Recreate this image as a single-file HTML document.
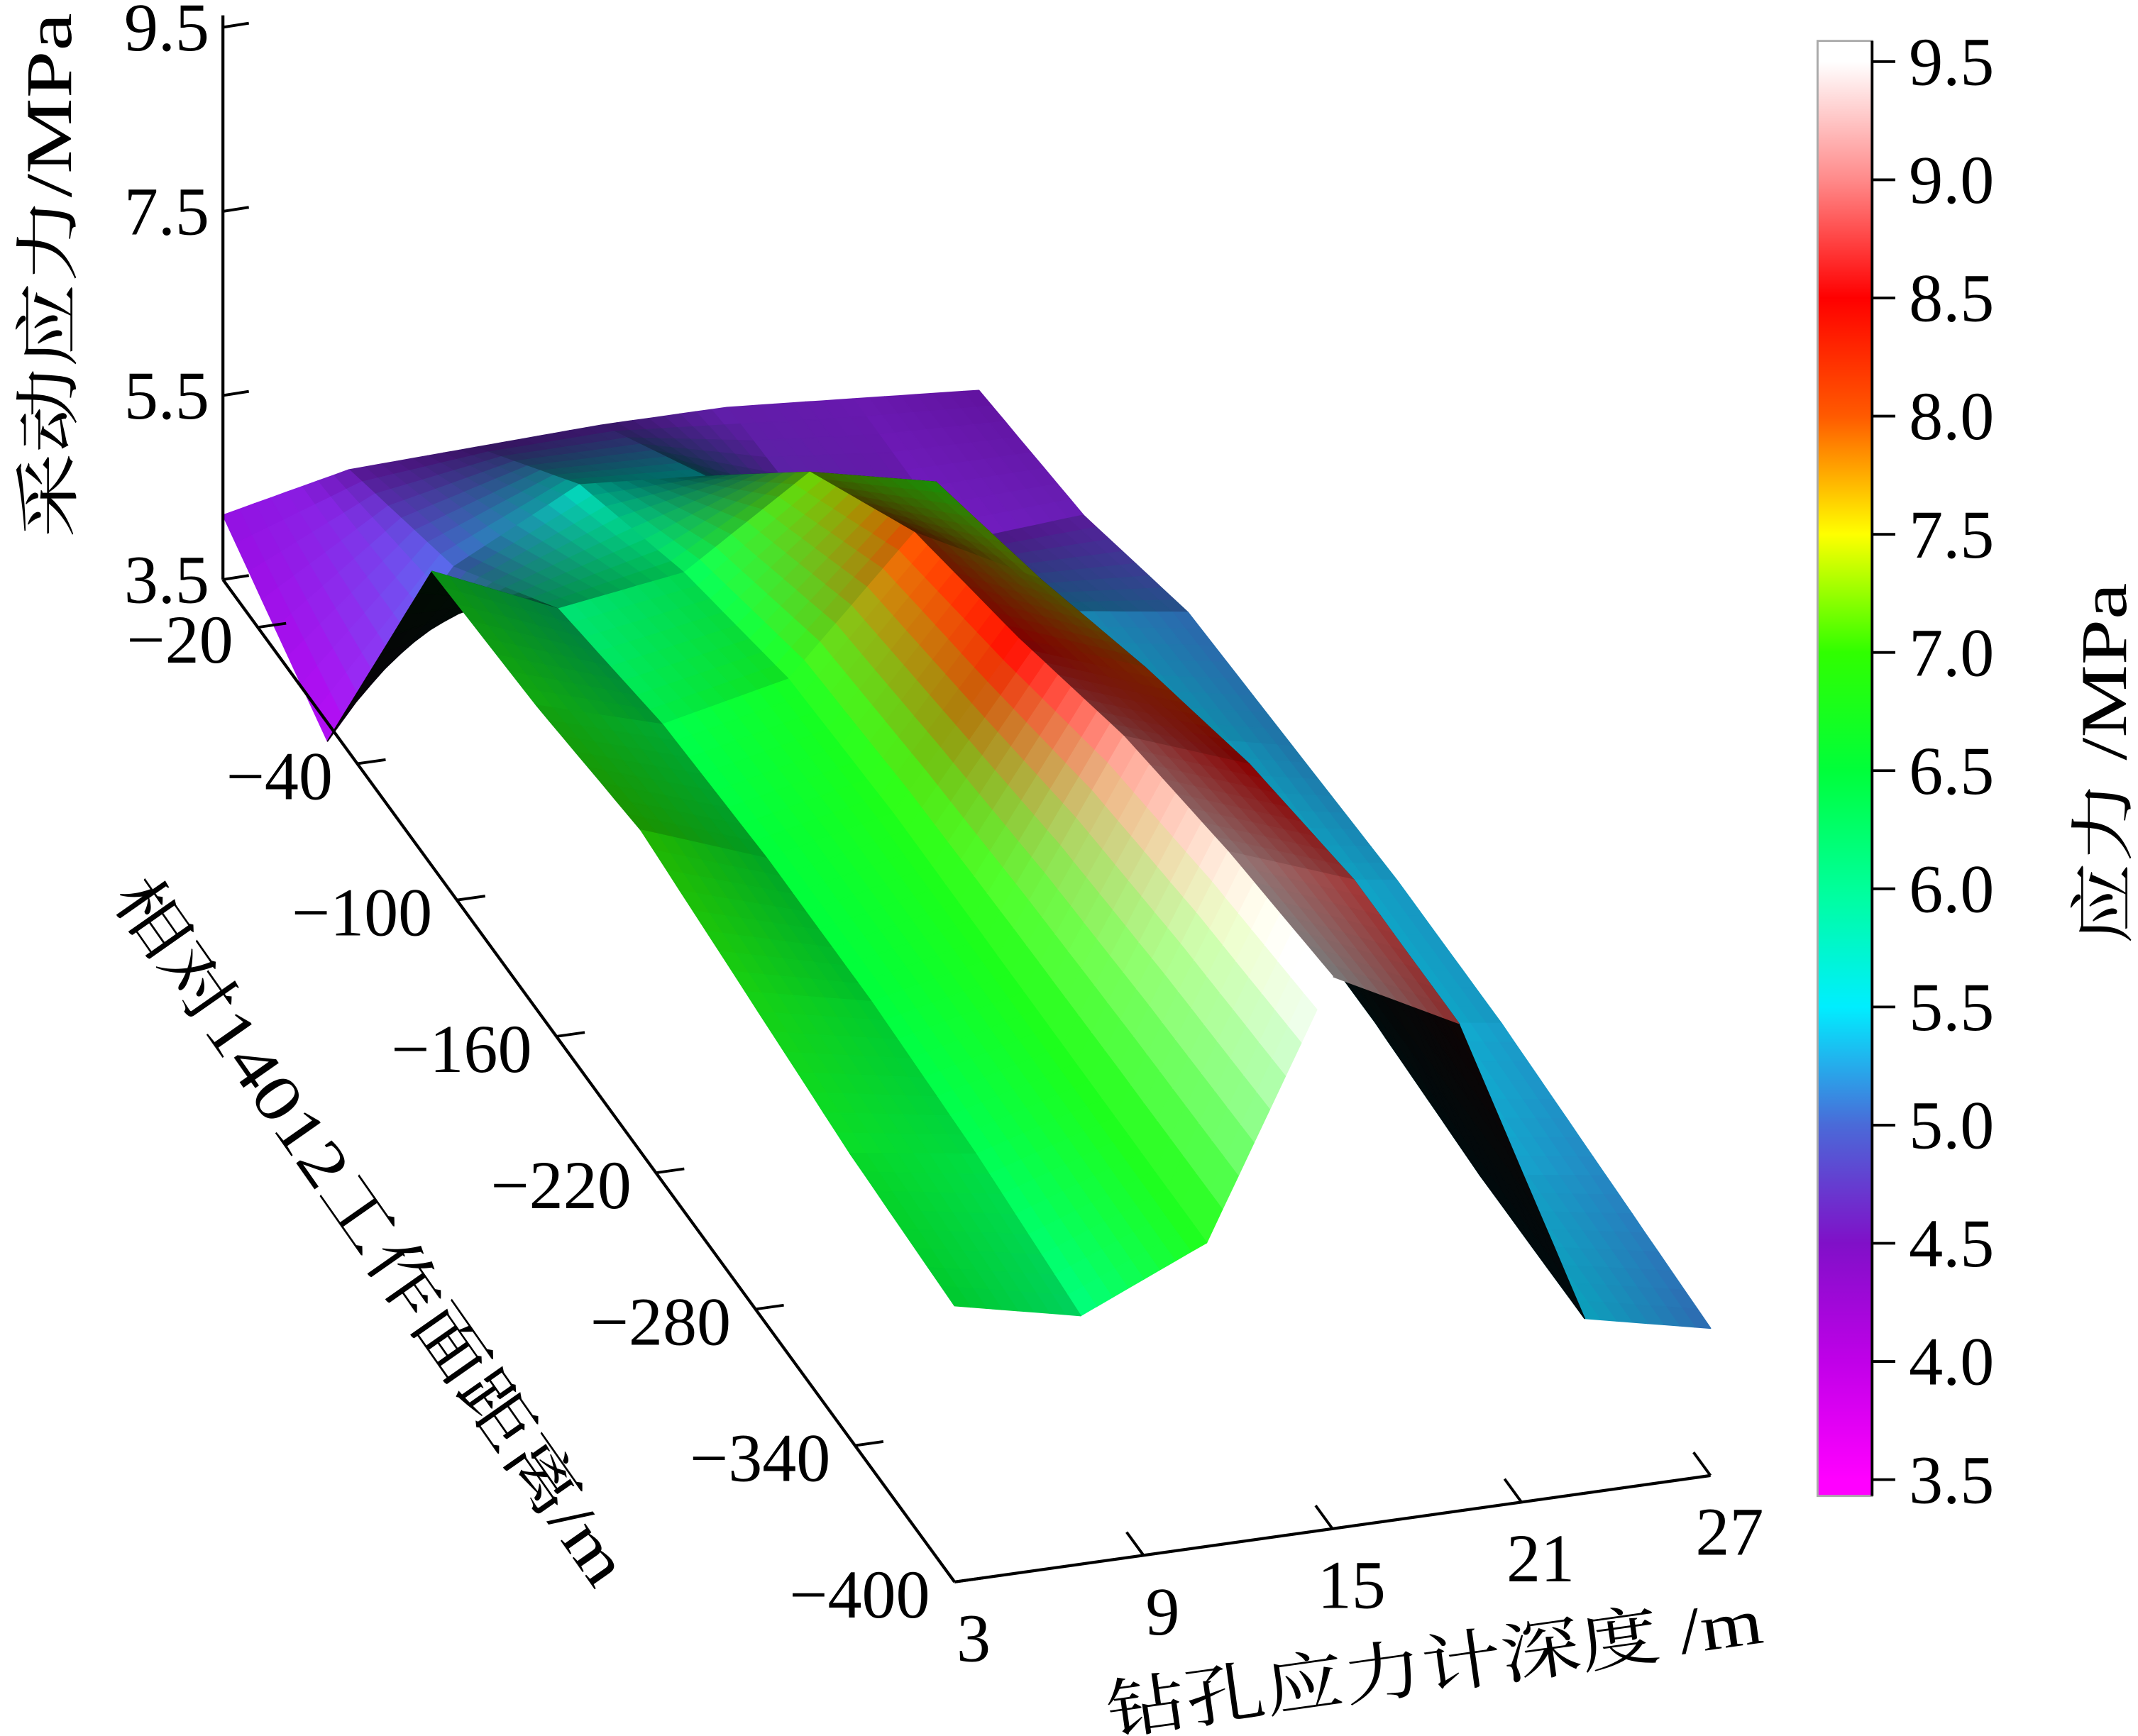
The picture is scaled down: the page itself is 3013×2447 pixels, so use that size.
<!DOCTYPE html>
<html><head><meta charset="utf-8"><style>
html,body{margin:0;padding:0;background:#fff;}
svg{display:block;}
text{font-family:"Liberation Serif","Times New Roman","Noto Serif CJK SC",serif;fill:#000;}
</style></head>
<body>
<svg id="chart" width="3013" height="2447" viewBox="0 0 1568 1273" preserveAspectRatio="none" xmlns="http://www.w3.org/2000/svg">
<defs>
<linearGradient id="cbgrad" x1="0" y1="1" x2="0" y2="0"></linearGradient>
</defs>
<g id="surface"></g>
<g id="axes"></g>
<g id="colorbar"></g>
</svg>
<script>
// ---- data ----
const depths = [3, 7, 11, 15, 19, 23, 27];
const distLabels = ['-20', '-40', '-100', '-160', '-220', '-280', '-340', '-400'];
const row0 = [4.2, 4.5, 4.55, 4.6, 4.6, 4.5, 4.4];
const row1 = [3.3, 5.0, 5.7, 5.6, 4.7, 4.5, 4.6];
const row2 = [6.7, 6.1, 6.3, 7.2, 6.9, 5.3, 5.1];
const row3 = [6.8, 6.4, 6.7, 8.1, 7.4, 5.5, 5.2];
const row4 = [7.0, 6.5, 6.8, 8.5, 8.0, 5.5, 5.3];
const row5 = [6.8, 6.5, 6.8, 9.0, 8.5, 5.5, 5.3];
const row6 = [6.6, 6.4, 6.8, 9.3, 8.8, 5.4, 5.2];
const row7 = [6.5, 6.2, 6.8, 9.5, 8.8, 5.4, 5.1];
const stress = [row0, row1, row2, row3, row4, row5, row6, row7];
const zTicks = [3.5, 5.5, 7.5, 9.5];
const depthTicks = [3, 9, 15, 21, 27];
const cbTicks = [3.5, 4.0, 4.5, 5.0, 5.5, 6.0, 6.5, 7.0, 7.5, 8.0, 8.5, 9.0, 9.5];

// colormap stops (styling)
const cmapVals = [3.5, 4.0, 4.5, 5.0, 5.5, 6.0, 6.5, 7.0, 7.5, 8.0, 8.5, 9.0, 9.5];
const cmapCols = ['#ff00ff','#c000e8','#8010c8','#4a6ad8','#00eeff','#00ff9a','#00ff3a','#30ff00','#ffff00','#ff5a00','#ff0000','#ff8a8a','#ffffff'];

const NS = 'http://www.w3.org/2000/svg';
function hex(c){return [parseInt(c.substr(1,2),16),parseInt(c.substr(3,2),16),parseInt(c.substr(5,2),16)];}
function cmap(v){
  if(v<=cmapVals[0]) return hex(cmapCols[0]);
  for(let i=0;i<cmapVals.length-1;i++){
    if(v<=cmapVals[i+1]){
      const t=(v-cmapVals[i])/(cmapVals[i+1]-cmapVals[i]);
      const a=hex(cmapCols[i]), b=hex(cmapCols[i+1]);
      return [a[0]+(b[0]-a[0])*t,a[1]+(b[1]-a[1])*t,a[2]+(b[2]-a[2])*t];
    }
  }
  return hex(cmapCols[cmapCols.length-1]);
}
// axis functions
function rowPos(r){return -0.35 + r*1.05;}
function proj(d,k,z){
  const a=d-3;
  return [163.5+23.1*a+73*(k+0.35), 425-3.25*a+100*(k+0.35)-67.5*(z-3.5)];
}
function mk(tag,attrs,parent){
  const e=document.createElementNS(NS,tag);
  for(const k in attrs) e.setAttribute(k,attrs[k]);
  parent.appendChild(e); return e;
}
// ---- surface ----
const surf=document.getElementById('surface');
const SUB=8;
function bil(grid,rf,cf){
  const r0=Math.min(Math.floor(rf),grid.length-2), c0=Math.min(Math.floor(cf),grid[0].length-2);
  const tr=rf-r0, tc=cf-c0;
  const z00=grid[r0][c0], z01=grid[r0][c0+1], z10=grid[r0+1][c0], z11=grid[r0+1][c0+1];
  return z00*(1-tr)*(1-tc)+z01*(1-tr)*tc+z10*tr*(1-tc)+z11*tr*tc;
}
function zAt(rf,cf){return bil(stress,rf,cf);}
const vcol=stress.map(row=>row.map(v=>cmap(Math.max(v,4.6-(4.6-v)*0.3))));
const vch=[0,1,2].map(ch=>vcol.map(row=>row.map(c=>c[ch])));
function colAt(rf,cf){return [0,1,2].map(ch=>bil(vch[ch],rf,cf));}
function dAt(cf){
  const c0=Math.min(Math.floor(cf),depths.length-2), t=cf-c0;
  return depths[c0]+(depths[c0+1]-depths[c0])*t;
}
const polys=[];
const L=(function(){const v=[-0.7,0.45,0.65];const n=Math.hypot(v[0],v[1],v[2]);return v.map(x=>x/n);})();
function signedArea(p){let s=0;for(let i=0;i<p.length;i++){const a=p[i],b=p[(i+1)%p.length];s+=a[0]*b[1]-b[0]*a[1];}return s;}
const refSign=Math.sign(signedArea([proj(3,0,5),proj(7,0,5),proj(7,1,5),proj(3,1,5)]));
for(let r=0;r<stress.length-1;r++){
  for(let c=0;c<depths.length-1;c++){
    for(let i=0;i<SUB;i++){
      for(let j=0;j<SUB;j++){
        const rf0=r+i/SUB, rf1=r+(i+1)/SUB, cf0=c+j/SUB, cf1=c+(j+1)/SUB;
        const corners=[[rf0,cf0],[rf0,cf1],[rf1,cf1],[rf1,cf0]];
        const zs=corners.map(q=>zAt(q[0],q[1]));
        const pts=corners.map((q,n)=>proj(dAt(q[1]),rowPos(q[0]),zs[n]));
        const dx=(dAt(cf1)-dAt(cf0)), dy=(rowPos(rf1)-rowPos(rf0))*3.5;
        const dzdx=((zs[1]-zs[0])+(zs[2]-zs[3]))/2*3, dzdy=((zs[3]-zs[0])+(zs[2]-zs[1]))/2*3;
        let n=[-dzdx/dx,-dzdy/dy,1]; const nl=Math.hypot(n[0],n[1],n[2]); n=n.map(x=>x/nl);
        const lam=Math.max(0,n[0]*L[0]+n[1]*L[1]+n[2]*L[2]);
        let col=colAt((rf0+rf1)/2,(cf0+cf1)/2);
        const back=Math.sign(signedArea(pts))!==refSign;
        let f=back?0.05:Math.min(1.12,0.3+1.0*lam);
        col=col.map(x=>Math.max(0,Math.min(255,Math.round(x*f))));
        const a=(dAt(cf0)+dAt(cf1))/2-3, kk=(rowPos(rf0)+rowPos(rf1))/2;
        polys.push({pts:pts,col:col,depth:-3.25*a+100*kk});
      }
    }
  }
}
polys.sort((p,q)=>p.depth-q.depth);
for(const p of polys){
  const fill='rgb('+p.col.join(',')+')';
  const el=mk('polygon',{points:p.pts.map(q=>q[0].toFixed(1)+','+q[1].toFixed(1)).join(' '),fill:fill,stroke:fill,'stroke-width':'0.9','stroke-linejoin':'round'},surf);
  
  
}
// ---- axes ----
const ax=document.getElementById('axes');
const FS=50;
{
  const p0=proj(3,-0.35,3.5), p1=proj(3,-0.35,9.6);
  const l=mk('line',{x1:p0[0],y1:p0[1],x2:p1[0],y2:p1[1]-2,stroke:'#000','stroke-width':2.2},ax);
  
  
  for(const t of zTicks){
    const p=proj(3,-0.35,t);
    const tk=mk('line',{x1:p[0],y1:p[1],x2:p[0]+19,y2:p[1]-3,stroke:'#000','stroke-width':2},ax);
    
    
    const tx=mk('text',{x:p[0]-10,y:p[1]+17,'font-size':FS,'text-anchor':'end'},ax);
    tx.textContent=t.toFixed(1);
    
    
  }
}
{
  const p0=proj(3,-0.35,3.5), p1=proj(3,7,3.5);
  const l=mk('line',{x1:p0[0],y1:p0[1],x2:p1[0],y2:p1[1],stroke:'#000','stroke-width':2.2},ax);
  
  
  distLabels.forEach((lab,i)=>{
    const p=proj(3,i,3.5), q=proj(3.9,i,3.5);
    const tk=mk('line',{x1:p[0],y1:p[1],x2:q[0],y2:q[1],stroke:'#000','stroke-width':2},ax);
    
    
    const tx=mk('text',{x:p[0]-18,y:p[1]+26,'font-size':FS,'text-anchor':'end'},ax);
    tx.textContent=lab.replace('-','\u2212');
    
    
  });
}
{
  const p0=proj(3,7,3.5), p1=proj(27,7,3.5);
  const l=mk('line',{x1:p0[0],y1:p0[1],x2:p1[0],y2:p1[1],stroke:'#000','stroke-width':2.2},ax);
  
  
  for(const t of depthTicks){
    const p=proj(t,7,3.5), q=proj(t,6.83,3.5);
    const tk=mk('line',{x1:p[0],y1:p[1],x2:q[0],y2:q[1],stroke:'#000','stroke-width':2},ax);
    
    
    const tx=mk('text',{x:p[0]+14,y:p[1]+58,'font-size':FS,'text-anchor':'middle'},ax);
    tx.textContent=String(t);
    
    
  }
}
function title(txt,x,y,ang,len,name){
  const t=mk('text',{x:0,y:0,'font-size':48,'text-anchor':'middle','dominant-baseline':'central',transform:'translate('+x+','+y+') rotate('+ang+')',textLength:len,lengthAdjust:'spacingAndGlyphs'},ax);
  t.textContent=txt;
  
  
}
title('采动应力/MPa',36,202,-90,385,'z-axis-title');
title('相对14012工作面距离/m',272,903,55,620,'distance-axis-title');
title('钻孔应力计深度 /m',1052,1222,-8,485,'depth-axis-title');
title('应力 /MPa',1543,560,-90,265,'colorbar-title');
// ---- colorbar ----
const cb=document.getElementById('colorbar');
const cbX=1333, cbW=40, cbTop=30, cbBot=1097;
function cbY(v){return 1085-(v-3.5)*173.3;}
const vTop=3.5+(1085-cbTop)/173.3, vBot=3.5+(1085-cbBot)/173.3;
const grad=document.getElementById('cbgrad');
for(let i=0;i<cmapVals.length;i++){
  const off=(cmapVals[i]-vBot)/(vTop-vBot);
  mk('stop',{offset:Math.max(0,Math.min(1,off)),'stop-color':cmapCols[i]},grad);
}
const rect=mk('rect',{x:cbX,y:cbTop,width:cbW,height:cbBot-cbTop,fill:'url(#cbgrad)',stroke:'#aaa','stroke-width':1.5},cb);


for(const t of cbTicks){
  const y=cbY(t);
  const tk=mk('line',{x1:cbX+cbW,y1:y,x2:cbX+cbW+17,y2:y,stroke:'#000','stroke-width':2},cb);
  
  
  const tx=mk('text',{x:cbX+cbW+27,y:y+17,'font-size':FS},cb);
  tx.textContent=t.toFixed(1);
  
  
}
const cbl=mk('line',{x1:cbX+cbW,y1:cbTop,x2:cbX+cbW,y2:cbBot,stroke:'#000','stroke-width':2},cb);


</script>
</body></html>
